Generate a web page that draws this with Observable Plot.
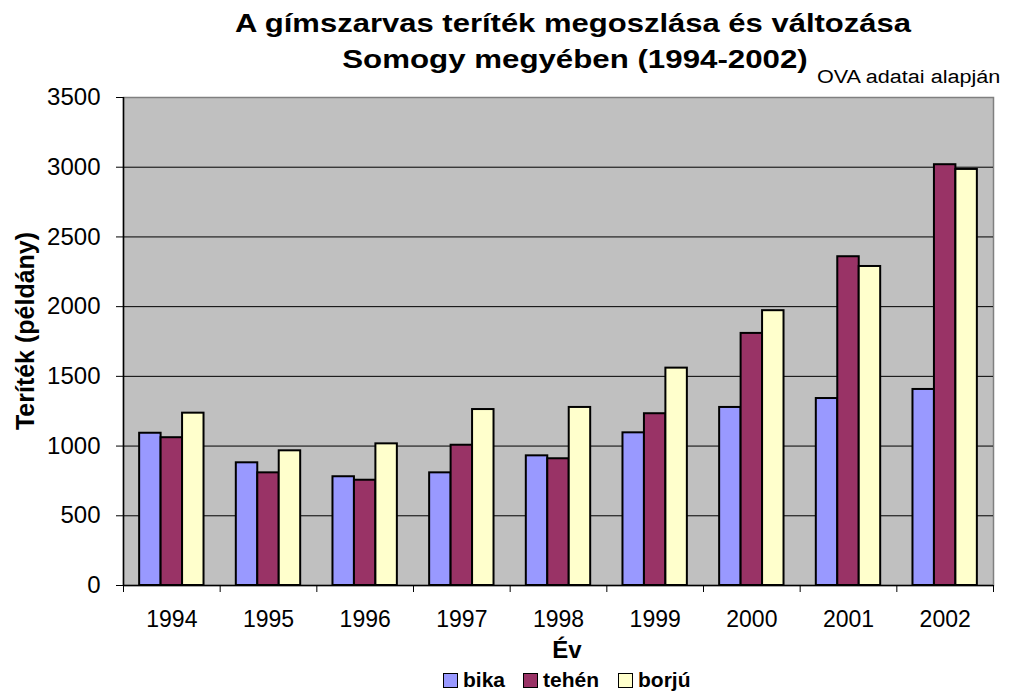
<!DOCTYPE html>
<html>
<head>
<meta charset="utf-8">
<script src="https://cdn.jsdelivr.net/npm/d3@7"></script>
<script src="https://cdn.jsdelivr.net/npm/@observablehq/plot@0.6"></script>
<style>
  html, body { margin: 0; padding: 0; background: #fff; }
  #wrap { position: relative; width: 1009px; height: 693px; font-family: "Liberation Sans", Arial, sans-serif; color: #000; }
  .t { position: absolute; line-height: 1; white-space: nowrap; }
  .sw { display: inline-block; position: absolute; width: 13px; height: 13px; border: 1.5px solid #000; }
</style>
</head>
<body>
<div id="wrap"></div>
<script>
const years = [1994, 1995, 1996, 1997, 1998, 1999, 2000, 2001, 2002];
const bika  = [1092,  880,  780,  808,  930, 1095, 1277, 1341, 1406];
const tehen = [1060,  808,  755, 1006,  909, 1232, 1808, 2358, 3018];
const borju = [1236,  966, 1016, 1262, 1277, 1559, 1971, 2288, 2984];
const seriesNames = ["bika", "tehén", "borjú"];
const seriesColors = ["#9999FF", "#993366", "#FFFFCC"];
const yTicks = [0, 500, 1000, 1500, 2000, 2500, 3000, 3500];

const seriesValues = [bika, tehen, borju];
const data = [];
years.forEach((y, i) => {
  seriesNames.forEach((s, k) => {
    data.push({year: y, series: s, k, value: seriesValues[k][i]});
  });
});
const barW = 0.222;
const boundaries = years.map(y => y - 0.5).concat([years[years.length - 1] + 0.5]);

const chart = Plot.plot({
  width: 1009,
  height: 693,
  marginTop: 97,
  marginBottom: 108,
  marginLeft: 123,
  marginRight: 16,
  style: {fontFamily: "Liberation Sans, Arial, sans-serif", fontSize: "22px", color: "#000", background: "transparent"},
  x: {type: "linear", domain: [1993.5, 2002.5]},
  y: {domain: [0, 3500]},
  color: {domain: seriesNames, range: seriesColors},
  marks: [
    Plot.frame({fill: "#C0C0C0", stroke: "#808080", strokeWidth: 1.5}),
    Plot.ruleY(yTicks.filter(v => v > 0 && v < 3500), {stroke: "#000", strokeWidth: 1}),
    Plot.rectY(data, {
      x1: d => d.year + (d.k - 1) * barW - barW / 2,
      x2: d => d.year + (d.k - 1) * barW + barW / 2,
      y1: 0,
      y2: "value",
      fill: "series",
      stroke: "#000",
      strokeWidth: 2
    }),
    Plot.ruleX([1993.5], {stroke: "#000", strokeWidth: 1.5}),
    Plot.ruleY([0], {stroke: "#000", strokeWidth: 1.5}),
    Plot.axisY({ticks: yTicks, tickSize: 7, tickPadding: 16, label: null, fontSize: 24, tickFormat: d => String(d)}),
    Plot.axisX({ticks: boundaries, tickSize: 7, tickFormat: () => "", label: null}),
    Plot.axisX({ticks: years, tickSize: 0, tickPadding: 25, label: null, fontSize: 23, tickFormat: d => String(d)})
  ]
});

const wrap = document.getElementById("wrap");
wrap.appendChild(chart);

function addText(txt, css) {
  const d = document.createElement("div");
  d.className = "t";
  d.textContent = txt;
  Object.assign(d.style, css);
  wrap.appendChild(d);
  return d;
}
addText("A gímszarvas teríték megoszlása és változása", {left: "573px", top: "11px", fontSize: "25px", fontWeight: "bold", transform: "translateX(-50%) scaleX(1.24)"});
addText("Somogy megyében (1994-2002)", {left: "575px", top: "47px", fontSize: "25px", fontWeight: "bold", transform: "translateX(-50%) scaleX(1.25)"});
addText("OVA adatai alapján", {left: "817px", top: "68px", fontSize: "18px", transformOrigin: "left center", transform: "scaleX(1.2)"});
addText("Év", {left: "567px", top: "638px", fontSize: "24px", fontWeight: "bold", transform: "translateX(-50%)"});
addText("Teríték (példány)", {left: "25px", top: "331px", fontSize: "25px", fontWeight: "bold", transform: "translate(-50%, -50%) rotate(-90deg)"});

const legendPos = [[443, 463], [523, 543], [618, 638]];
seriesNames.forEach((s, k) => {
  const sw = document.createElement("div");
  sw.className = "sw";
  sw.style.left = legendPos[k][0] + "px";
  sw.style.top = "673px";
  sw.style.background = seriesColors[k];
  wrap.appendChild(sw);
  addText(s, {left: legendPos[k][1] + "px", top: "669px", fontSize: "21px", fontWeight: "bold"});
});
</script>
</body>
</html>
